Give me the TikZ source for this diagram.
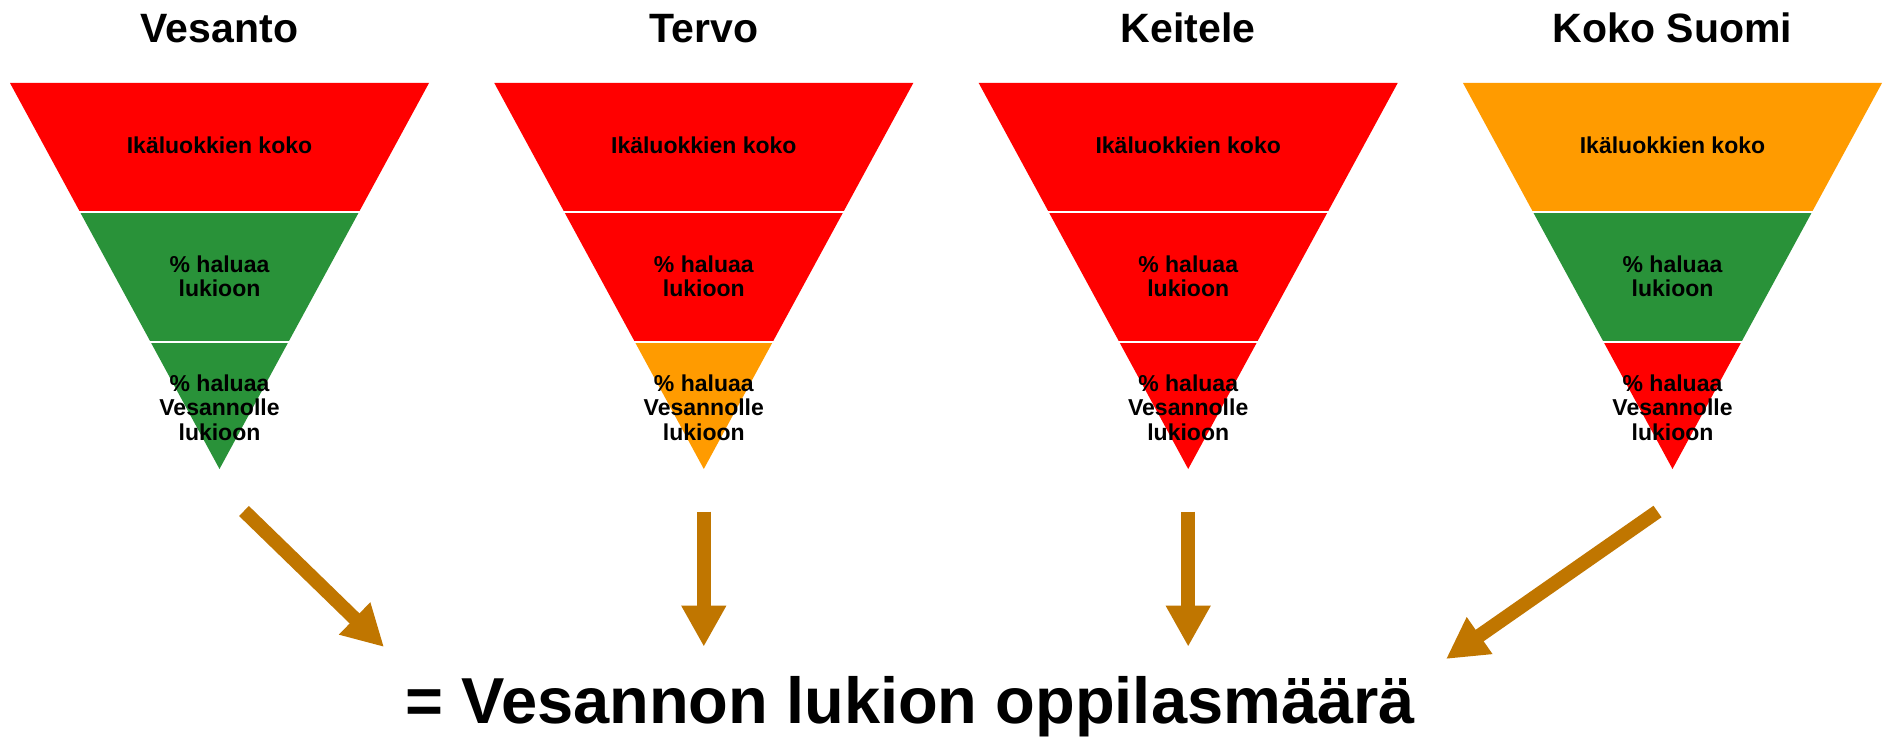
\documentclass[tikz,border=0pt]{standalone}
\usepackage{fontspec}
\setmainfont{Liberation Sans}
\usetikzlibrary{arrows.meta}
\definecolor{fred}{RGB}{255,0,0}
\definecolor{fgreen}{RGB}{41,146,57}
\definecolor{forange}{RGB}{255,155,0}
\definecolor{arrowc}{RGB}{192,118,0}
\newcommand{\myfunnel}[4]{%
  \fill[#2] (#1-209.5,83) -- (#1+209.5,83) -- (#1+139.5,212) -- (#1-139.5,212) -- cycle;
  \fill[#3] (#1-139.5,212) -- (#1+139.5,212) -- (#1+68.9,342) -- (#1-68.9,342) -- cycle;
  \fill[#4] (#1-68.9,342) -- (#1+68.9,342) -- (#1,469) -- cycle;
  \draw[white,line width=2pt] (#1-145,212) -- (#1+145,212);
  \draw[white,line width=2pt] (#1-75,342) -- (#1+75,342);
}
\begin{document}
\begin{tikzpicture}[x=1pt,y=-1pt,
  title/.style={font=\bfseries\fontsize{41}{45}\selectfont, anchor=base, inner sep=0pt},
  lab/.style={font=\bfseries\fontsize{23}{24.4}\selectfont, align=center, inner sep=0pt},
  bigarrow/.style={draw=arrowc, line width=14pt, -{Triangle[width=42pt,length=41pt]}}]
\useasboundingbox (0,0) rectangle (1883,738);
\fill[white] (0,0) rectangle (1883,738);

\myfunnel{219.5}{fred}{fgreen}{fgreen}
\myfunnel{703.8}{fred}{fred}{forange}
\myfunnel{1188.2}{fred}{fred}{fred}
\myfunnel{1672.5}{forange}{fgreen}{fred}

\foreach \cx/\nm/\tt in {219.5/1/Vesanto, 703.8/2/Tervo, 1188.2/3/Keitele, 1672.5/4/Koko Suomi}{
  \node[title] (t\nm) at (\cx,43) {\tt};
  \node[lab, anchor=base] (a\nm) at (\cx,154) {Ikäluokkien koko};
  \node[lab, anchor=north] (b\nm) at (\cx,255.5) {\% haluaa\\lukioon};
  \node[lab, anchor=north] (c\nm) at (\cx,374.5) {\% haluaa\\Vesannolle\\lukioon};
}

\node[font=\bfseries\fontsize{65}{70}\selectfont, anchor=base, inner sep=0pt] (res) at (910,723) {= Vesannon lukion oppilasmäärä};

\coordinate (s1) at (244,511);
\coordinate (e1) at (384,647);
\coordinate (s2) at (703.8,511.7);
\coordinate (e2) at (703.8,646.7);
\coordinate (s3) at (1188.2,511.7);
\coordinate (e3) at (1188.2,646.7);
\coordinate (s4) at (1657.5,511.5);
\coordinate (e4) at (1446,659);
\foreach \i in {1,2,3,4}{
  \draw[bigarrow] (s\i) -- (e\i);
}
\end{tikzpicture}
\end{document}
